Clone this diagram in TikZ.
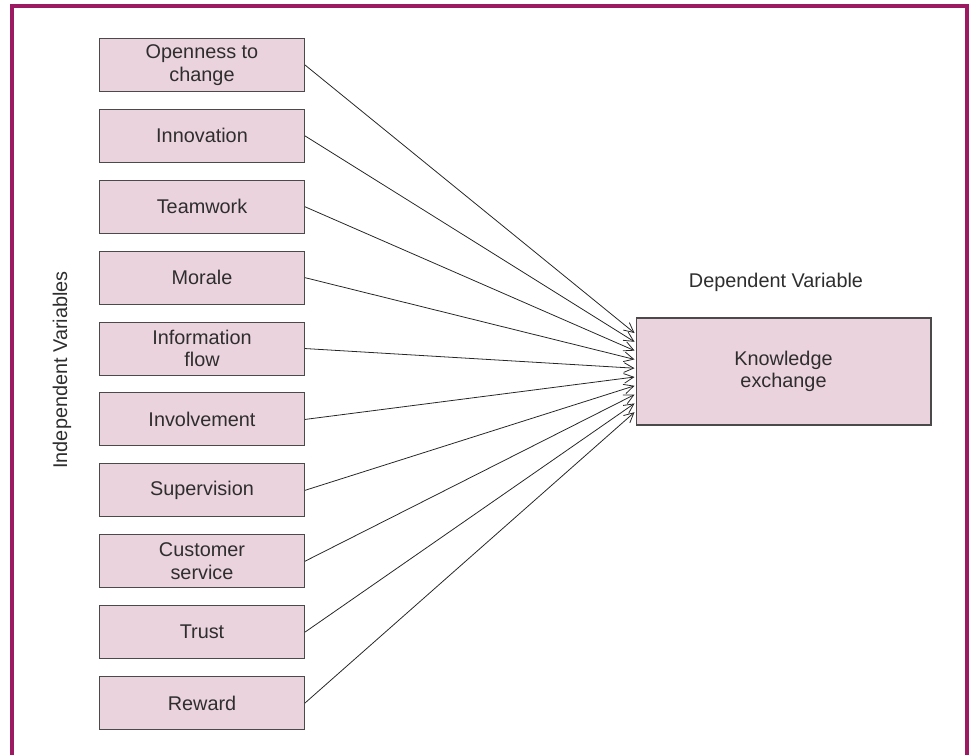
\documentclass[tikz,border=0pt]{standalone}
\usepackage{fontspec}
\setmainfont{Liberation Sans}
\usepackage{tikz}
\usetikzlibrary{positioning,calc,arrows.meta}

\definecolor{boxfill}{HTML}{EBD3DE}
\definecolor{boxline}{HTML}{4A4A4A}
\definecolor{framecol}{HTML}{9C1A62}
\definecolor{txt}{HTML}{2E2E2E}

\tikzset{
  varbox/.style={draw=boxline,fill=boxfill,line width=0.6pt,minimum width=4.1cm,
    minimum height=1.06cm,inner sep=0pt,align=center,text=txt},
  lbl/.style={text=txt,inner sep=0pt},
  link/.style={-{Straight Barb[length=5.5pt,width=5.5pt]},line width=0.45pt,black!85}
}

\begin{document}
\begin{tikzpicture}[x=0.02cm,y=-0.02cm,node distance=1.418cm,on grid,
    font=\fontsize{11.3pt}{12.8pt}\selectfont]
     \useasboundingbox (0,0) rectangle (969,754);
     \draw[framecol,line width=2.3pt] (12,760) -- (12,6) -- (967,6) -- (967,760);

     \node[varbox] (open) at (202,65) {Openness to\\change};
     \node[varbox] (innov)  [below=of open]  {Innovation};
     \node[varbox] (team)   [below=of innov] {Teamwork};
     \node[varbox] (morale) [below=of team]  {Morale};
     \node[varbox] (info)   [below=of morale] {Information\\flow};
     \node[varbox] (involve) [below=of info] {Involvement};
     \node[varbox] (superv) [below=of involve] {Supervision};
     \node[varbox] (cust)   [below=of superv] {Customer\\service};
     \node[varbox] (trust)  [below=of cust]  {Trust};
     \node[varbox] (reward) [below=of trust] {Reward};

     \node[varbox,minimum width=5.9cm,minimum height=2.14cm] (ke) at (783.5,371.5) {Knowledge\\exchange};
     \node[lbl] (dep) at (776,282) {Dependent Variable};
     \node[lbl,rotate=90] (indep) at (62,370) {Independent Variables};

     \foreach \v [count=\i] in {open,innov,team,morale,info,involve,superv,cust,trust,reward}
       \coordinate (end\i) at ($(ke.west)+(-1,-38.5+\i*8.8-8.8)$);

      \path[link]
      (open.east)    edge (end1)
      (innov.east)   edge (end2)
      (team.east)    edge (end3)
      (morale.east)  edge (end4)
      (info.east)    edge (end5)
      (involve.east) edge (end6)
      (superv.east)  edge (end7)
      (cust.east)    edge (end8)
      (trust.east)   edge (end9)
      (reward.east)  edge (end10);
    \end{tikzpicture}
\end{document}
